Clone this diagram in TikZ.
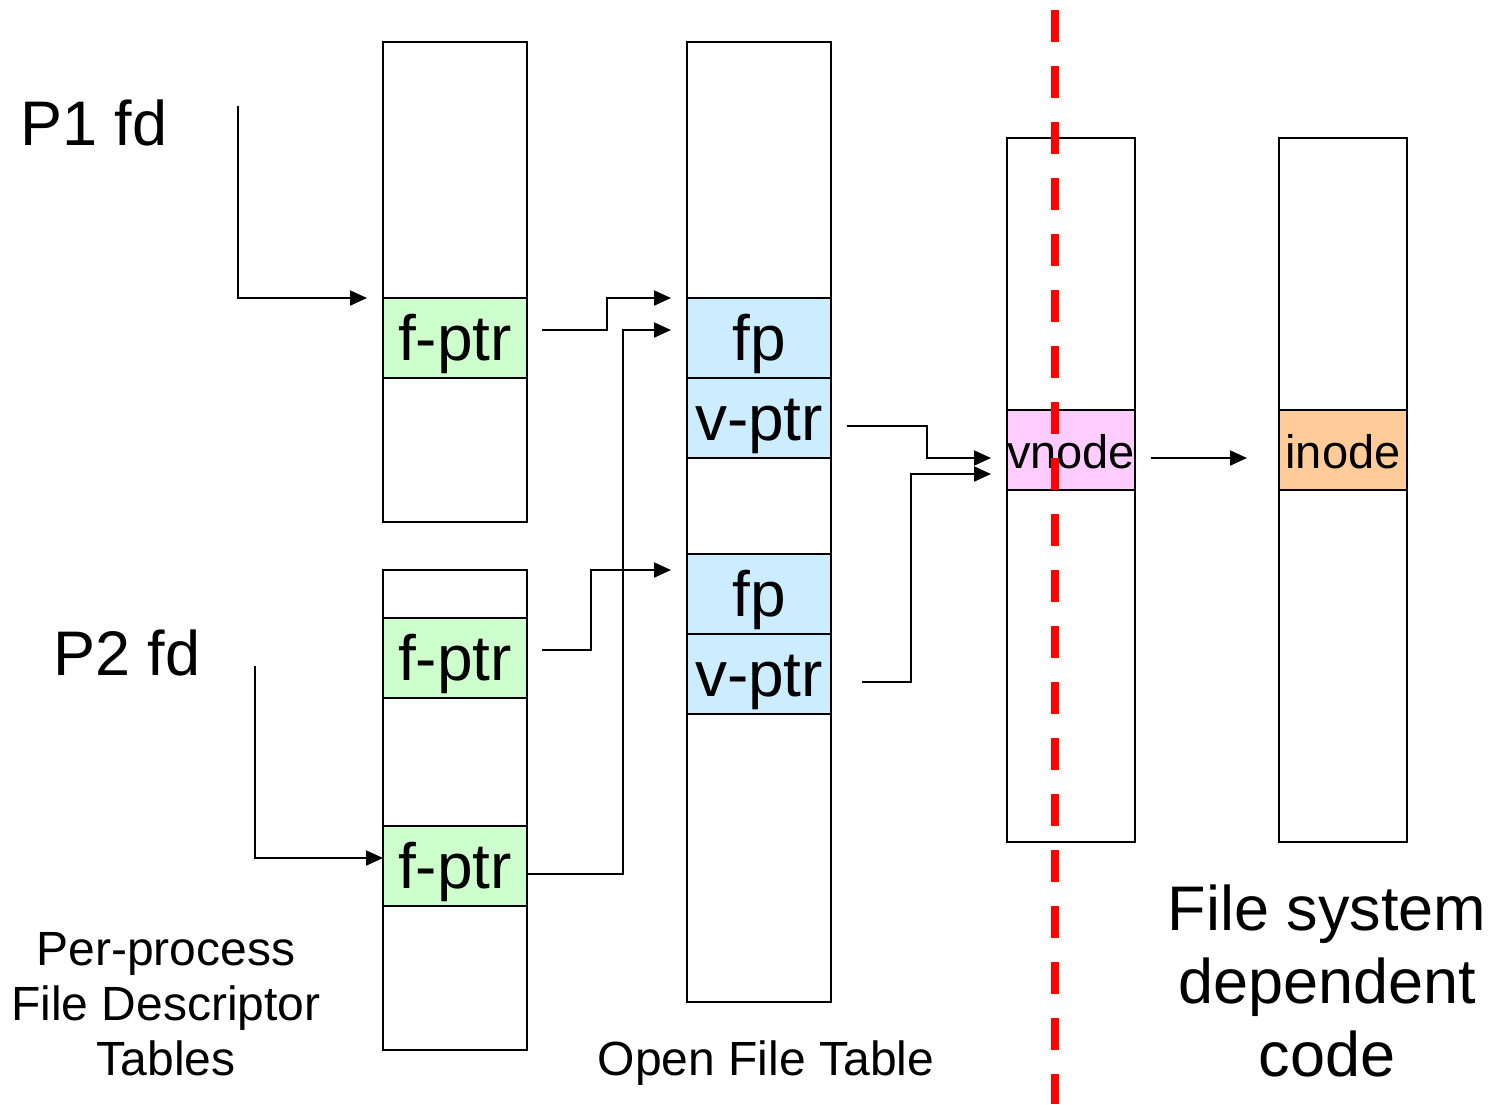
\documentclass[tikz,border=0pt]{standalone}
\usepackage{fontspec}
\setmainfont{Liberation Sans}
\usetikzlibrary{arrows.meta,calc}
\definecolor{cgreen}{HTML}{CCFFCC}
\definecolor{cblue}{HTML}{CCECFF}
\definecolor{cpink}{HTML}{FFCCFF}
\definecolor{corange}{HTML}{FFCC99}
\definecolor{cred}{HTML}{FF0000}
\begin{document}
\begin{tikzpicture}[x=0.5pt,y=-0.5pt,
  tbl/.style={draw=black, line width=1pt, inner sep=0pt, outer sep=0pt, anchor=north west},
  widetbl/.style={tbl, minimum width=72pt},
  narrowtbl/.style={tbl, minimum width=64pt},
  bigcell/.style={draw=black, line width=1pt, inner sep=0pt, outer sep=0pt, anchor=north west,
    minimum width=72pt, minimum height=40pt, text height=31pt, text depth=9pt,
    font=\fontsize{32}{36}\selectfont},
  smallcell/.style={draw=black, line width=1pt, inner sep=0pt, outer sep=0pt, anchor=north west,
    minimum width=64pt, minimum height=40pt, text height=29pt, text depth=11pt,
    font=\fontsize{23.5}{27}\selectfont},
  arr/.style={draw=black, line width=1pt, -{Triangle[length=8.5pt,width=7.5pt]}},
  bigtext/.style={font=\fontsize{31.5}{36.5}\selectfont, inner sep=0pt},
  captext/.style={font=\fontsize{24}{27.5}\selectfont, inner sep=0pt, align=center}
]
\useasboundingbox (0,0) rectangle (1499,1104);

% tables
\node[widetbl, minimum height=240pt] (t1) at (383,42) {};
\node[widetbl, minimum height=240pt] (t2) at (383,570) {};
\node[widetbl, minimum height=480pt] (oft) at (687,42) {};
\node[narrowtbl, minimum height=352pt] (vt) at (1007,138) {};
\node[narrowtbl, minimum height=352pt] (it) at (1279,138) {};

% cells
\node[bigcell, fill=cgreen] (f1) at (383,298) {f-ptr};
\node[bigcell, fill=cgreen] (f2) at (383,618) {f-ptr};
\node[bigcell, fill=cgreen] (f3) at (383,826) {f-ptr};
\node[bigcell, fill=cblue] (fp1) at (687,298) {fp};
\node[bigcell, fill=cblue] (vp1) at (687,378) {v-ptr};
\node[bigcell, fill=cblue] (fp2) at (687,554) {fp};
\node[bigcell, fill=cblue] (vp2) at (687,634) {v-ptr};
\node[smallcell, fill=cpink] (vn) at (1007,410) {vnode};
\node[smallcell, fill=corange] (in) at (1279,410) {inode};

% labels
\node[bigtext, anchor=base west] (p1) at (20,145) {P1 fd};
\node[bigtext, anchor=base west] (p2) at (53,675) {P2 fd};
\node[captext, anchor=base] (lpp) at (166,1075) {Per-process\\File Descriptor\\Tables};
\node[captext, anchor=base] (loft) at (766,1075) {Open File Table};
\node[bigtext, align=center, anchor=base] (lfs) at (1327,1076) {File system\\dependent\\code};

% connectors
\coordinate (p1s) at (238,106);
\coordinate (p2s) at (255,666);
\draw[arr] (p1s) |- ($(f1.north west)+(-16,0)$);
\draw[arr] (p2s) |- ($(f3.west)+(0,-8)$);
\draw[arr] ($(f1.east)+(15,-8)$) -| (607,298) -- ($(fp1.north west)+(-16,0)$);
\draw[arr] ($(f3.east)+(0,8)$) -| (623,330) -- ($(fp1.west)+(-16,-8)$);
\draw[arr] ($(f2.east)+(15,-8)$) -| (591,570) -- ($(fp2.west)+(-16,-24)$);
\draw[arr] ($(vp1.east)+(16,8)$) -| (927,458) -- ($(vn.west)+(-16,8)$);
\draw[arr] ($(vp2.east)+(31,8)$) -| (911,474) -- ($(vn.west)+(-16,24)$);
\draw[arr] ($(vn.east)+(16,8)$) -- ($(in.west)+(-32,8)$);

% boundary
\coordinate (rtop) at (1055,10);
\coordinate (rbot) at (1055,1104);
\draw[cred, line width=4pt, dash pattern=on 16pt off 12pt] (rtop) -- (rbot);
\end{tikzpicture}
\end{document}
